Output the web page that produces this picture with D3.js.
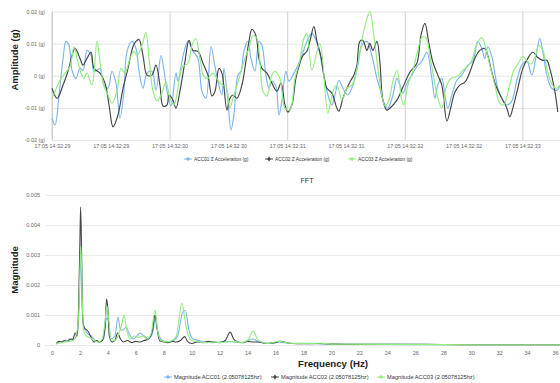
<!DOCTYPE html>
<html>
<head>
<meta charset="utf-8">
<script src="https://cdn.jsdelivr.net/npm/d3@7"></script>
<style>
body { margin: 0; background: #fff; }
text { font-family: "Liberation Sans", Arial, sans-serif; }
</style>
</head>
<body>
<div id="chart"></div>
<script>

var colors = ["#7cb5ec", "#434348", "#90ed7d"];
var accNames = ["ACC01 Z Acceleration (g)", "ACC02 Z Acceleration (g)", "ACC03 Z Acceleration (g)"];
var fftNames = ["Magnitude ACC01 (2.05078125hz)", "Magnitude ACC02 (2.05078125hz)", "Magnitude ACC03 (2.05078125hz)"];
var startTime = new Date(2017, 4, 17, 14, 32, 29);
var ampTicks = [-0.02, -0.01, 0, 0.01, 0.02];
var magTicks = [0, 0.001, 0.002, 0.003, 0.004, 0.005];
var freqTicks = d3.range(0, 37, 2);

// [ms after 14:32:29, g]
var acc01 = [[0,-0.0132],[26,-0.0153],[60,-0.0060],[94,0.0054],[119,0.0107],[145,0.0094],[170,0.0017],[204,-0.0008],[238,0.0023],[264,0.0017],[298,0.0079],[332,0.0063],[357,0.0014],[383,0.0017],[408,0.0023],[442,-0.0029],[476,-0.0039],[510,0.0014],[544,-0.0023],[578,-0.0132],[612,-0.0048],[638,0.0076],[680,0.0107],[714,0.0085],[740,0.0014],[774,-0.0039],[808,0.0008],[850,0.0014],[884,-0.0045],[927,0.0063],[952,0.0017],[978,-0.0048],[1012,-0.0094],[1054,0.0008],[1071,-0.0017],[1105,0.0045],[1131,0.0085],[1156,0.0107],[1199,0.0076],[1241,0.0054],[1275,-0.0048],[1309,-0.0070],[1352,0.0091],[1386,0.0029],[1411,-0.0017],[1445,-0.0060],[1462,0.0023],[1496,-0.0079],[1522,-0.0169],[1547,-0.0122],[1581,0.0002],[1607,0.0014],[1632,0.0076],[1666,0.0107],[1692,0.0054],[1726,0.0014],[1760,0.0107],[1785,0.0094],[1819,0.0002],[1845,-0.0039],[1870,-0.0017],[1904,-0.0033],[1930,-0.0122],[1955,-0.0079],[1989,0.0014],[2015,-0.0017],[2049,0.0002],[2091,0.0033],[2125,0.0063],[2168,0.0107],[2210,0.0132],[2261,0.0094],[2304,0.0014],[2338,-0.0048],[2380,-0.0091],[2406,-0.0060],[2440,-0.0014],[2474,-0.0039],[2516,-0.0060],[2559,-0.0029],[2601,0.0033],[2635,0.0094],[2678,0.0107],[2720,0.0063],[2763,-0.0008],[2788,-0.0039],[2814,-0.0076],[2856,-0.0101],[2899,-0.0060],[2933,-0.0008],[2958,-0.0029],[2984,-0.0054],[3018,-0.0023],[3060,0.0002],[3103,0.0029],[3145,0.0045],[3188,0.0073],[3230,-0.0008],[3256,-0.0070],[3281,-0.0029],[3315,-0.0008],[3341,-0.0060],[3366,-0.0101],[3400,-0.0060],[3443,-0.0014],[3485,0.0002],[3536,0.0033],[3579,0.0045],[3621,0.0107],[3655,0.0085],[3681,0.0054],[3706,0.0091],[3740,0.0060],[3766,0.0008],[3791,-0.0039],[3825,-0.0070],[3868,-0.0091],[3910,-0.0079],[3953,-0.0014],[3995,0.0033],[4038,0.0045],[4080,0.0002],[4123,0.0076],[4148,0.0116],[4174,0.0076],[4208,0.0002],[4250,-0.0039],[4293,-0.0045],[4318,-0.0033]];

var acc02 = [[0,-0.0039],[43,-0.0070],[94,-0.0029],[136,0.0014],[196,0.0085],[238,0.0054],[264,0.0033],[289,0.0048],[332,0.0073],[357,0.0023],[408,0.0008],[451,-0.0023],[485,-0.0091],[519,-0.0159],[561,-0.0122],[604,-0.0039],[646,0.0023],[689,0.0091],[714,0.0107],[740,0.0113],[774,0.0063],[808,0.0002],[850,0.0002],[884,0.0033],[918,-0.0029],[944,-0.0094],[978,-0.0091],[995,-0.0060],[1029,-0.0076],[1054,-0.0101],[1088,-0.0048],[1131,0.0045],[1165,0.0110],[1199,0.0079],[1241,0.0076],[1284,0.0039],[1326,0.0002],[1360,-0.0063],[1386,-0.0048],[1420,0.0023],[1445,0.0008],[1488,-0.0107],[1513,-0.0070],[1539,-0.0060],[1573,-0.0070],[1615,-0.0029],[1649,0.0045],[1675,0.0107],[1700,0.0144],[1734,0.0125],[1760,0.0054],[1785,0.0023],[1828,0.0008],[1870,-0.0023],[1913,-0.0048],[1947,-0.0023],[1981,-0.0091],[2006,-0.0113],[2040,-0.0091],[2074,-0.0008],[2108,0.0039],[2134,0.0063],[2168,0.0076],[2193,0.0107],[2227,0.0153],[2253,0.0107],[2287,0.0060],[2312,0.0002],[2338,-0.0039],[2380,-0.0054],[2423,-0.0101],[2440,-0.0110],[2474,-0.0070],[2508,-0.0039],[2542,-0.0014],[2567,0.0002],[2593,0.0033],[2618,0.0107],[2644,0.0110],[2678,0.0079],[2703,0.0101],[2729,0.0079],[2763,0.0107],[2788,0.0045],[2814,-0.0076],[2848,-0.0107],[2873,-0.0101],[2933,-0.0076],[2984,-0.0036],[3043,0.0011],[3103,0.0039],[3137,0.0125],[3171,0.0163],[3205,0.0101],[3239,0.0042],[3281,0.0002],[3315,-0.0029],[3358,-0.0141],[3392,-0.0098],[3426,-0.0051],[3468,-0.0029],[3511,-0.0020],[3553,0.0011],[3596,0.0054],[3638,0.0079],[3681,0.0085],[3706,0.0063],[3740,0.0011],[3783,-0.0039],[3825,-0.0070],[3868,-0.0101],[3893,-0.0128],[3919,-0.0101],[3961,-0.0039],[4004,0.0023],[4046,0.0054],[4089,0.0073],[4131,0.0057],[4174,0.0048],[4208,0.0048],[4233,0.0023],[4276,-0.0048],[4301,-0.0113]];

var acc03 = [[0,-0.0070],[26,-0.0048],[68,-0.0014],[111,0.0008],[153,0.0029],[187,0.0091],[213,0.0054],[247,0.0008],[272,-0.0008],[298,0.0008],[340,-0.0029],[383,0.0107],[408,0.0045],[442,-0.0033],[476,-0.0060],[510,-0.0085],[553,-0.0048],[587,0.0023],[621,0.0008],[663,0.0054],[697,0.0076],[723,0.0063],[765,0.0094],[799,0.0135],[825,0.0054],[859,-0.0048],[893,-0.0079],[935,-0.0054],[969,-0.0017],[1003,-0.0070],[1037,-0.0091],[1071,-0.0039],[1088,0.0002],[1114,0.0029],[1156,0.0039],[1190,0.0094],[1224,0.0116],[1258,0.0054],[1292,-0.0002],[1326,-0.0008],[1369,0.0008],[1411,-0.0014],[1445,-0.0029],[1479,-0.0033],[1513,-0.0101],[1539,-0.0070],[1573,-0.0029],[1615,0.0023],[1641,0.0054],[1675,0.0085],[1709,0.0125],[1743,0.0116],[1768,0.0045],[1794,-0.0048],[1828,-0.0063],[1870,0.0002],[1896,0.0014],[1938,-0.0008],[1981,-0.0101],[2023,-0.0107],[2066,-0.0008],[2108,0.0048],[2142,0.0116],[2168,0.0132],[2210,0.0017],[2278,0.0101],[2346,-0.0116],[2389,-0.0048],[2423,-0.0029],[2465,-0.0076],[2508,-0.0039],[2550,-0.0029],[2593,0.0023],[2644,0.0125],[2678,0.0178],[2703,0.0200],[2737,0.0125],[2771,0.0023],[2805,-0.0060],[2831,-0.0094],[2865,-0.0076],[2899,-0.0017],[2933,0.0017],[2975,-0.0076],[2992,-0.0091],[3026,-0.0029],[3069,0.0017],[3111,0.0079],[3145,0.0119],[3179,0.0119],[3213,0.0063],[3247,-0.0008],[3281,-0.0070],[3315,-0.0101],[3349,-0.0039],[3392,-0.0008],[3451,-0.0002],[3494,0.0017],[3536,0.0029],[3570,0.0048],[3613,0.0098],[3655,0.0119],[3689,0.0085],[3723,0.0033],[3766,-0.0029],[3808,-0.0085],[3842,-0.0091],[3885,-0.0039],[3927,0.0017],[3961,0.0036],[4004,0.0060],[4038,0.0048],[4072,0.0036],[4106,0.0057],[4140,0.0094],[4174,0.0079],[4208,0.0023],[4250,-0.0026],[4293,-0.0039],[4318,-0.0029]];

// [Hz, magnitude]
var fft01 = [[0.3,0.00003],[0.6,0.0001],[0.9,0.00012],[1.2,0.00015],[1.4,0.0002],[1.6,0.0002],[1.8,0.0004],[1.95,0.0015],[2.05,0.0030],[2.15,0.0015],[2.3,0.0006],[2.5,0.0004],[2.8,0.0003],[3.1,0.00015],[3.4,0.0001],[3.7,0.0002],[3.9,0.0009],[4.05,0.0008],[4.2,0.0002],[4.5,0.0003],[4.73,0.00093],[4.9,0.0005],[5.1,0.0005],[5.3,0.0006],[5.5,0.0004],[5.8,0.0002],[6.1,0.0003],[6.3,0.0004],[6.6,0.0003],[6.9,0.0002],[7.2,0.0004],[7.4,0.0009],[7.6,0.0004],[7.9,0.00015],[8.3,0.0001],[8.7,0.00015],[9.0,0.0003],[9.2,0.0008],[9.35,0.0011],[9.55,0.00115],[9.8,0.0005],[10.1,0.0002],[10.5,0.00015],[11,0.0001],[11.5,0.00008],[12,0.0001],[12.5,0.00012],[13,0.0001],[13.5,0.00008],[14,0.00015],[14.4,0.0002],[14.8,0.0001],[15.5,0.00006],[16.2,0.0001],[17,0.00005],[18,0.00006],[19,0.00004],[20,0.00003],[24,0.00002],[30,0.00001],[36.5,0.00001]];

var fft02 = [[0.3,0.00005],[0.5,0.00012],[0.7,0.0001],[0.9,0.00015],[1.1,0.00012],[1.3,0.0002],[1.5,0.00018],[1.65,0.0004],[1.8,0.0003],[1.9,0.0012],[2.0,0.0035],[2.05,0.0046],[2.12,0.0030],[2.2,0.0008],[2.35,0.00055],[2.5,0.0005],[2.65,0.0004],[2.8,0.00025],[3.0,0.0001],[3.2,0.00015],[3.4,0.0001],[3.6,0.00015],[3.8,0.0006],[3.9,0.00153],[4.0,0.0012],[4.1,0.0003],[4.3,0.0001],[4.5,0.00015],[4.7,0.0004],[4.9,0.0002],[5.1,0.0001],[5.4,0.00015],[5.7,0.00008],[6.0,0.00012],[6.3,0.0001],[6.6,0.00015],[6.9,0.0002],[7.2,0.0005],[7.37,0.0010],[7.5,0.0006],[7.7,0.00015],[8.0,0.0001],[8.3,0.00008],[8.6,0.00012],[8.9,0.0001],[9.2,0.00015],[9.5,0.00028],[9.7,0.00012],[10.0,0.00005],[10.4,0.0001],[10.8,0.00008],[11.2,0.00012],[11.6,0.0001],[12.0,0.00008],[12.4,0.00015],[12.75,0.00043],[13.0,0.0002],[13.3,0.0001],[13.7,0.00008],[14.0,0.00012],[14.4,0.0001],[14.8,0.0001],[15.3,0.00005],[16.0,0.00008],[16.3,0.00012],[17.0,0.00006],[18.0,0.00004],[19.0,0.00005],[20,0.00003],[22,0.00002],[26,0.00002],[30,0.00001],[36.5,0.00001]];

var fft03 = [[0.3,0.00004],[0.6,0.00008],[0.9,0.0001],[1.2,0.00012],[1.5,0.00015],[1.7,0.0003],[1.9,0.0009],[2.0,0.0025],[2.07,0.00328],[2.15,0.0018],[2.25,0.0005],[2.45,0.0003],[2.7,0.00025],[3.0,0.00015],[3.3,0.0001],[3.6,0.0002],[3.8,0.0008],[3.92,0.0013],[4.05,0.0009],[4.2,0.0002],[4.5,0.00015],[4.8,0.0004],[5.0,0.0007],[5.15,0.001],[5.35,0.0005],[5.6,0.0002],[5.9,0.0003],[6.2,0.00025],[6.5,0.0003],[6.8,0.0002],[7.1,0.0004],[7.37,0.00117],[7.55,0.0005],[7.8,0.00015],[8.2,0.0001],[8.6,0.00015],[8.9,0.0003],[9.1,0.0009],[9.3,0.0014],[9.5,0.0009],[9.7,0.0004],[10.0,0.00015],[10.5,0.0001],[11,0.00008],[11.5,0.0001],[12,0.00008],[12.5,0.0001],[13,0.00012],[13.5,0.00008],[14.0,0.00015],[14.4,0.00047],[14.7,0.0002],[15,0.0001],[15.5,0.00005],[16.2,0.00012],[17,0.00006],[18,0.00005],[19.3,0.00006],[20,0.00003],[24,0.00002],[30,0.00001],[36.5,0.00001]];

var width = 560, height = 383;

var svg = d3.select("#chart")
  .append("svg")
  .attr("width", width)
  .attr("height", height);

// ---------- top chart: acceleration ----------
var x = d3.scaleTime()
  .domain([startTime, d3.timeMillisecond.offset(startTime, 4320)])
  .range([52, 560]);
var y = d3.scaleLinear().domain([-0.02, 0.02]).range([140, 11.5]);

var accG = svg.append("g");

// horizontal grid
accG.append("g")
  .attr("transform", "translate(52,0)")
  .call(d3.axisLeft(y).tickValues(ampTicks).tickSize(-508).tickFormat(""))
  .call(function(g) {
    g.select(".domain").remove();
    g.selectAll("line").attr("stroke", "#e6e6e6");
  });

// vertical grid, one per second
accG.append("g")
  .attr("transform", "translate(0,140)")
  .call(d3.axisBottom(x).ticks(d3.timeSecond.every(1)).tickSize(-128.5).tickFormat(""))
  .call(function(g) {
    g.select(".domain").remove();
    g.selectAll("line").attr("stroke", "#cfcfcf");
  });

accG.append("line")
  .attr("x1", 52).attr("x2", 52).attr("y1", 11.5).attr("y2", 140)
  .attr("stroke", "#cfcfcf");

var fmtTime = d3.timeFormat("%d:%m %H:%M:%S");
accG.append("g")
  .attr("transform", "translate(0,140)")
  .call(d3.axisBottom(x).ticks(d3.timeMillisecond.every(500)).tickSize(0).tickPadding(4).tickFormat(fmtTime))
  .call(function(g) {
    g.select(".domain").remove();
    g.selectAll("text").attr("fill", "#666").style("font-size", "5.4px").attr("font-family", null);
  });

accG.append("g")
  .attr("transform", "translate(52,0)")
  .call(d3.axisLeft(y).tickValues(ampTicks).tickSize(0).tickPadding(7)
    .tickFormat(function(d) { return (d === 0 ? "0" : d.toFixed(2)) + " (g)"; }))
  .call(function(g) {
    g.select(".domain").remove();
    g.selectAll("text").attr("fill", "#666").style("font-size", "5.4px").attr("font-family", null);
  });

accG.append("text")
  .attr("transform", "translate(18,60) rotate(-90)")
  .attr("text-anchor", "middle")
  .style("font-size", "9.5px")
  .style("font-weight", "bold")
  .attr("fill", "#222")
  .text("Amplitude (g)");

// spline-like smoothing through the read points
var accLine = d3.line()
  .x(function(d) { return x(d3.timeMillisecond.offset(startTime, d[0])); })
  .y(function(d) { return y(d[1]); })
  .curve(d3.curveCatmullRom.alpha(0.5));

[acc01, acc02, acc03].forEach(function(s, i) {
  accG.append("path")
    .datum(s)
    .attr("fill", "none")
    .attr("stroke", colors[i])
    .attr("stroke-width", 1.15)
    .attr("stroke-linejoin", "round")
    .attr("d", accLine);
});

// ---------- bottom chart: FFT ----------
var fx = d3.scaleLinear().domain([0, 36.36]).range([52, 560]);
var fy = d3.scaleLinear().domain([0, 0.005]).range([345, 195]);

var fftG = svg.append("g");

fftG.append("g")
  .attr("transform", "translate(45,0)")
  .call(d3.axisLeft(fy).tickValues(magTicks).tickSize(-515).tickFormat(""))
  .call(function(g) {
    g.select(".domain").remove();
    g.selectAll("line").attr("stroke", "#e9e9e9");
  });

fftG.append("g")
  .attr("transform", "translate(45,0)")
  .call(d3.axisLeft(fy).tickValues(magTicks).tickSize(0).tickPadding(5)
    .tickFormat(function(d) { return d === 0 ? "0" : d.toFixed(3); }))
  .call(function(g) {
    g.select(".domain").remove();
    g.selectAll("text").attr("fill", "#666").style("font-size", "5.5px").attr("font-family", null);
  });

fftG.append("g")
  .attr("transform", "translate(0,345)")
  .call(d3.axisBottom(fx).tickValues(freqTicks).tickSize(0).tickPadding(6))
  .call(function(g) {
    g.select(".domain").remove();
    g.selectAll("text").attr("fill", "#666").style("font-size", "5.5px").attr("font-family", null);
  });

fftG.append("text")
  .attr("x", 307).attr("y", 183)
  .attr("text-anchor", "middle")
  .style("font-size", "7px")
  .attr("fill", "#333")
  .text("FFT");

fftG.append("text")
  .attr("transform", "translate(18,270) rotate(-90)")
  .attr("text-anchor", "middle")
  .style("font-size", "9.5px")
  .style("font-weight", "bold")
  .attr("fill", "#222")
  .text("Magnitude");

fftG.append("text")
  .attr("x", 333).attr("y", 367)
  .attr("text-anchor", "middle")
  .style("font-size", "9.7px")
  .style("font-weight", "bold")
  .attr("fill", "#222")
  .text("Frequency (Hz)");

var fftLine = d3.line()
  .x(function(d) { return fx(d[0]); })
  .y(function(d) { return fy(d[1]); })
  .curve(d3.curveMonotoneX);

[fft01, fft02, fft03].forEach(function(s, i) {
  fftG.append("path")
    .datum(s)
    .attr("fill", "none")
    .attr("stroke", colors[i])
    .attr("stroke-width", 1.1)
    .attr("d", fftLine);
});

// ---------- legends ----------
var symbols = [d3.symbolCircle, d3.symbolDiamond, d3.symbolSquare];

function legend(names, xs, yy, fs) {
  names.forEach(function(name, i) {
    var g = svg.append("g").attr("transform", "translate(" + xs[i] + "," + yy + ")");
    g.append("line").attr("x1", -4).attr("x2", 4)
      .attr("stroke", colors[i]).attr("stroke-width", 1);
    g.append("path").attr("d", d3.symbol().type(symbols[i]).size(9)())
      .attr("fill", colors[i]);
    g.append("text").attr("x", 6).attr("dy", "0.35em")
      .style("font-size", fs).attr("fill", "#333")
      .text(name);
  });
}

legend(accNames, [188, 269, 352], 159, "4.8px");
legend(fftNames, [168, 275, 381], 377, "5.7px");

</script>
</body>
</html>
